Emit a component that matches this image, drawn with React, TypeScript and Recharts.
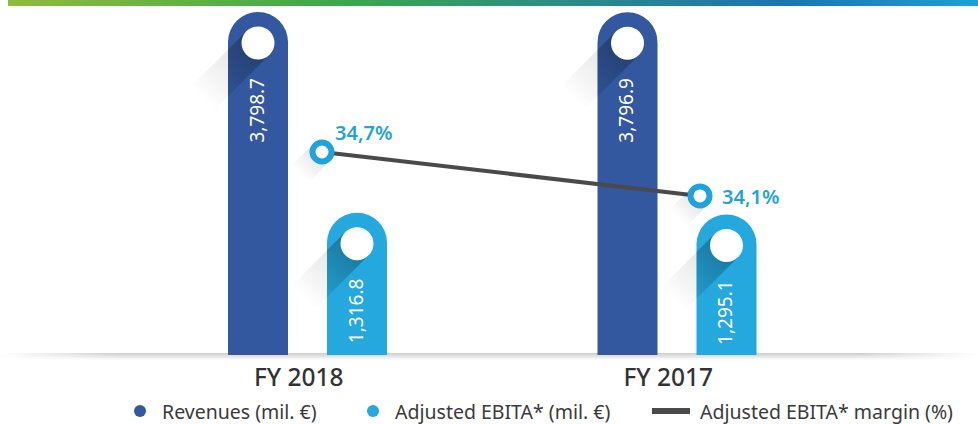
import React from "react";
import { ComposedChart, Bar, Line, XAxis, YAxis, LabelList } from "recharts";

const categories = ["FY 2018", "FY 2017"];
const revenues = [3798.7, 3796.9];
const ebita = [1316.8, 1295.1];
const margins = [34.7, 34.1];

const legendItems = [
  { label: "Revenues (mil. €)", color: "#33589f", kind: "dot" },
  { label: "Adjusted EBITA* (mil. €)", color: "#24a8de", kind: "dot" },
  { label: "Adjusted EBITA* margin (%)", color: "#4a4a4a", kind: "line" },
];

const data = categories.map((name, i) => ({
  name,
  revenues: revenues[i],
  ebita: ebita[i],
  margin: margins[i],
}));

const FONT = "'Noto Sans', sans-serif";

function PillBar(props: any) {
  const { x, y, width, height, fill, background, index, dataKey } = props;
  if (x == null || y == null) return null;
  const bottom = background ? background.y + background.height : y + height;
  const r = width / 2;
  const cx = x + r;
  const cy = y + r + 1;
  const cr = 16.5;
  const k = cr * 0.7071;
  const L = 78;
  const d = L * 0.7071;
  const pts = `${cx + k},${cy + k} ${cx - k},${cy - k} ${cx - k - d},${cy - k + d} ${cx + k - d},${cy + k + d}`;
  const path = `M${x},${bottom} L${x},${y + r} A${r},${r} 0 0 1 ${x + width},${y + r} L${x + width},${bottom} Z`;
  const id = `${dataKey}-${index}`;
  return (
    <g>
      <defs>
        <linearGradient id={`sh-${id}`} gradientUnits="userSpaceOnUse" x1={cx} y1={cy} x2={cx - d} y2={cy + d}>
          <stop offset="0%" stopColor="#000" stopOpacity={0.14} />
          <stop offset="100%" stopColor="#000" stopOpacity={0} />
        </linearGradient>
        <linearGradient id={`shi-${id}`} gradientUnits="userSpaceOnUse" x1={cx} y1={cy} x2={cx - d} y2={cy + d}>
          <stop offset="0%" stopColor="#000" stopOpacity={0.3} />
          <stop offset="100%" stopColor="#000" stopOpacity={0} />
        </linearGradient>
        <clipPath id={`clip-${id}`}>
          <path d={path} />
        </clipPath>
      </defs>
      <polygon points={pts} fill={`url(#sh-${id})`} />
      <path d={path} fill={fill} />
      <polygon points={pts} fill={`url(#shi-${id})`} clipPath={`url(#clip-${id})`} />
      <circle cx={cx} cy={cy} r={cr} fill="#fff" />
    </g>
  );
}

function BarValue(props: any) {
  const { x, y, width, value } = props;
  const tx = x + width / 2 + 6;
  const ty = y + 66;
  return (
    <text
      x={tx}
      y={ty}
      transform={`rotate(-90 ${tx} ${ty})`}
      textAnchor="end"
      fill="#fff"
      fontFamily={FONT}
      fontSize={19}
    >
      {Number(value).toLocaleString("en-US", { minimumFractionDigits: 1 })}
    </text>
  );
}

function MarginDot(props: any) {
  const { cx, cy, index } = props;
  if (cx == null || cy == null) return null;
  const k = 12 * 0.7071;
  const d = 22;
  const id = `mdot-${index}`;
  return (
    <g>
      <defs>
        <linearGradient id={id} gradientUnits="userSpaceOnUse" x1={cx} y1={cy} x2={cx - d} y2={cy + d}>
          <stop offset="0%" stopColor="#000" stopOpacity={0.12} />
          <stop offset="100%" stopColor="#000" stopOpacity={0} />
        </linearGradient>
      </defs>
      <polygon
        points={`${cx + k},${cy + k} ${cx - k},${cy - k} ${cx - k - d},${cy - k + d} ${cx + k - d},${cy + k + d}`}
        fill={`url(#${id})`}
      />
      <circle cx={cx} cy={cy} r={9.5} fill="#fff" stroke="#1fa3db" strokeWidth={6} />
    </g>
  );
}

function MarginLabel(props: any) {
  const { x, y, value, index } = props;
  const dx = index === 0 ? 13 : 22;
  const dy = index === 0 ? -12 : 8;
  return (
    <text x={x + dx} y={y + dy} fill="#1fa3db" fontFamily={FONT} fontSize={20} fontWeight={600}>
      {Number(value).toFixed(1).replace(".", ",")}%
    </text>
  );
}

function CategoryTick(props: any) {
  const { x, y, payload } = props;
  return (
    <text x={x - 9} y={y + 23} textAnchor="middle" fill="#333" fontFamily={FONT} fontSize={24.5} fontWeight={500}>
      {payload.value}
    </text>
  );
}

export default function App() {
  return (
    <div style={{ position: "relative", width: 978, height: 424, overflow: "hidden", background: "#fff" }}>
      <style>{"body{margin:0}"}</style>
      <div
        style={{
          position: "absolute",
          left: 8,
          top: 0,
          width: 970,
          height: 6,
          background: "linear-gradient(to right, #8fbb3d 0%, #3ba64b 35%, #2a8c86 58%, #1b74b3 80%, #1d9fd8 100%)",
        }}
      />
      <div
        style={{
          position: "absolute",
          left: 0,
          top: 353,
          width: 978,
          height: 7,
          background: "linear-gradient(to bottom, rgba(0,0,0,0.2), rgba(0,0,0,0))",
          WebkitMaskImage: "linear-gradient(to right, transparent, #000 12%, #000 88%, transparent)",
        }}
      />
      <ComposedChart
        width={978}
        height={424}
        data={data}
        margin={{ top: 12, right: 0, bottom: 29, left: 0 }}
        barGap={39}
        style={{ position: "absolute", left: 0, top: 0 }}
      >
        <XAxis
          xAxisId="b"
          dataKey="name"
          height={40}
          axisLine={false}
          tickLine={false}
          padding={{ left: 123, right: 116 }}
          tick={<CategoryTick />}
        />
        <XAxis xAxisId="m" dataKey="name" hide padding={{ left: 133, right: 89 }} />
        <YAxis yAxisId="b" hide domain={[-444, 3798.7]} allowDataOverflow />
        <YAxis yAxisId="m" hide domain={[31.93, 36.61]} allowDataOverflow />
        <Bar
          xAxisId="b"
          yAxisId="b"
          dataKey="revenues"
          fill="#33589f"
          barSize={60}
          shape={<PillBar />}
          isAnimationActive={false}
        >
          <LabelList dataKey="revenues" content={<BarValue />} />
        </Bar>
        <Bar
          xAxisId="b"
          yAxisId="b"
          dataKey="ebita"
          fill="#24a8de"
          barSize={60}
          shape={<PillBar />}
          isAnimationActive={false}
        >
          <LabelList dataKey="ebita" content={<BarValue />} />
        </Bar>
        <Line
          xAxisId="m"
          yAxisId="m"
          dataKey="margin"
          stroke="#4a4a4a"
          strokeWidth={4}
          dot={<MarginDot />}
          activeDot={false}
          isAnimationActive={false}
        >
          <LabelList dataKey="margin" content={<MarginLabel />} />
        </Line>
      </ComposedChart>
      <div style={{ position: "absolute", left: 0, top: 398, width: 978, height: 26, fontFamily: FONT, fontSize: 19.5, color: "#3a3a3a" }}>
        {legendItems.map((it, i) => {
          const left = [134, 367, 652][i];
          return (
            <div key={it.label} style={{ position: "absolute", left, top: 0, display: "flex", alignItems: "center", height: 26, whiteSpace: "nowrap" }}>
              {it.kind === "dot" ? (
                <span style={{ width: 12, height: 12, borderRadius: 6, background: it.color, marginRight: 16 }} />
              ) : (
                <span style={{ width: 38, height: 6, background: it.color, marginRight: 10 }} />
              )}
              <span>{it.label}</span>
            </div>
          );
        })}
      </div>
    </div>
  );
}
